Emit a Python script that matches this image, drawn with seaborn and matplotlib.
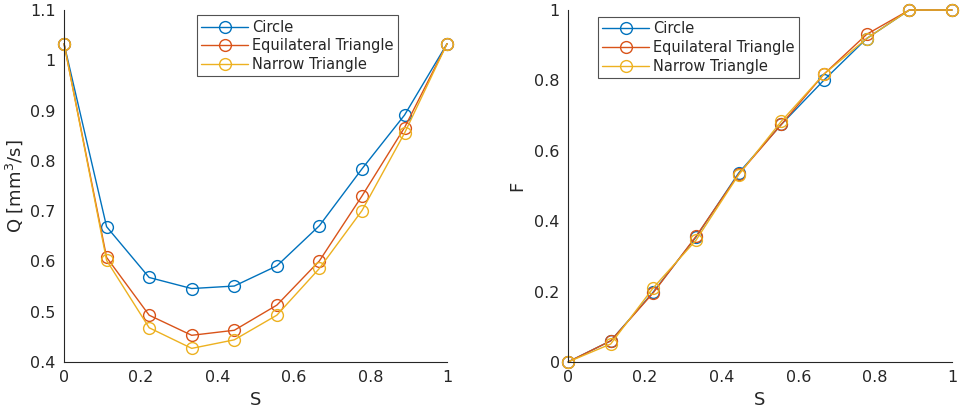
import numpy as np
import pandas as pd
import matplotlib
matplotlib.use("Agg")
import matplotlib.pyplot as plt
import seaborn as sns

# Saturation values (ten evenly spaced samples)
s_values = [0, 1/9, 2/9, 3/9, 4/9, 5/9, 6/9, 7/9, 8/9, 1]

# Flow rate Q [mm^3/s]
q_circle = [1.033, 0.669, 0.568, 0.546, 0.551, 0.591, 0.671, 0.784, 0.891, 1.033]
q_equilateral = [1.033, 0.608, 0.493, 0.453, 0.463, 0.513, 0.601, 0.730, 0.866, 1.033]
q_narrow = [1.033, 0.602, 0.468, 0.427, 0.444, 0.493, 0.586, 0.701, 0.855, 1.033]

# Fractional flow F
f_circle = [0.0, 0.060, 0.199, 0.355, 0.537, 0.675, 0.801, 0.919, 1.0, 1.0]
f_equilateral = [0.0, 0.060, 0.197, 0.357, 0.534, 0.675, 0.818, 0.931, 1.0, 1.0]
f_narrow = [0.0, 0.051, 0.211, 0.346, 0.532, 0.684, 0.818, 0.919, 1.0, 1.0]

shapes = ["Circle", "Equilateral Triangle", "Narrow Triangle"]
colors = ["#0072BD", "#D95319", "#EDB120"]


def long_table(series):
    rows = []
    for name, vals in zip(shapes, series):
        for s, v in zip(s_values, vals):
            rows.append({"S": s, "value": v, "shape": name})
    return pd.DataFrame(rows)


q_df = long_table([q_circle, q_equilateral, q_narrow])
f_df = long_table([f_circle, f_equilateral, f_narrow])

sns.set_style("white")
plt.rcParams["font.family"] = ["DejaVu Sans"]
text_color = "#262626"

fig = plt.figure(figsize=(9.6, 4.17), dpi=100)
ax1 = fig.add_axes([0.0667, 0.132, 0.399, 0.844])
ax2 = fig.add_axes([0.5917, 0.132, 0.400, 0.844])

for ax, df in [(ax1, q_df), (ax2, f_df)]:
    sns.lineplot(data=df, x="S", y="value", hue="shape", hue_order=shapes,
                 palette=colors, marker="o", markersize=8.5,
                 markerfacecolor="none", markeredgewidth=1.0,
                 linewidth=1.0, ax=ax, legend=False)
    lines = ax.get_lines()[:3]
    for line, c in zip(lines, colors):
        line.set_markeredgecolor(c)
        line.set_clip_on(False)
    ax.set_xlim(0, 1)
    ax.set_xticks([0, 0.2, 0.4, 0.6, 0.8, 1])
    ax.set_xticklabels(["0", "0.2", "0.4", "0.6", "0.8", "1"])
    ax.tick_params(direction="in", length=5, width=0.8, colors=text_color,
                   labelsize=11.5, pad=6)
    for side in ["top", "right"]:
        ax.spines[side].set_visible(False)
    for side in ["left", "bottom"]:
        ax.spines[side].set_color(text_color)
        ax.spines[side].set_linewidth(0.8)
    ax.set_xlabel("S", fontsize=13, color=text_color, labelpad=4)

ax1.set_ylim(0.4, 1.1)
ax1.set_yticks([0.4, 0.5, 0.6, 0.7, 0.8, 0.9, 1.0, 1.1])
ax1.set_yticklabels(["0.4", "0.5", "0.6", "0.7", "0.8", "0.9", "1", "1.1"])
ax1.set_ylabel("Q [mm$^3$/s]", fontsize=13, color=text_color, labelpad=4)

ax2.set_ylim(0, 1)
ax2.set_yticks([0, 0.2, 0.4, 0.6, 0.8, 1])
ax2.set_yticklabels(["0", "0.2", "0.4", "0.6", "0.8", "1"])
ax2.set_ylabel("F", fontsize=13, color=text_color, labelpad=6)

for ax, anchor in [(ax1, (0.347, 0.985)), (ax2, (0.078, 0.980))]:
    handles = ax.get_lines()[:3]
    leg = ax.legend(handles, shapes, loc="upper left", bbox_to_anchor=anchor,
                    fontsize=10.5, frameon=True, fancybox=False,
                    edgecolor=text_color, borderpad=0.3, labelspacing=0.25,
                    handlelength=3.2, handletextpad=0.3, borderaxespad=0)
    leg.get_frame().set_linewidth(0.8)
    for t in leg.get_texts():
        t.set_color(text_color)

fig.savefig("out.png", dpi=100)
